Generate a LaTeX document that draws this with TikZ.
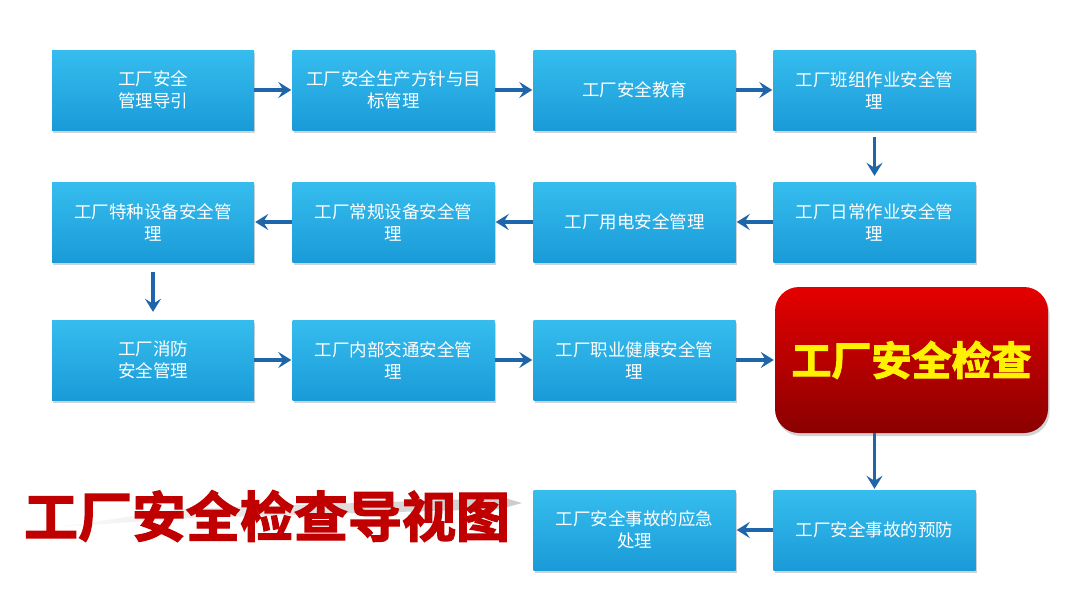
\documentclass[tikz,border=0pt]{standalone}
\usepackage{fontspec}
\newfontfamily\cjk{Noto Sans CJK SC}
\newfontfamily\cjkbold[FakeBold=2.5]{Noto Sans CJK SC Bold}
\usetikzlibrary{arrows.meta,shadows}
\definecolor{boxtop}{HTML}{36BDEE}
\definecolor{boxbot}{HTML}{1A9BD8}
\definecolor{arrowc}{HTML}{1F65AA}
\definecolor{redtop}{HTML}{E50000}
\definecolor{redbot}{HTML}{8A0000}
\definecolor{titlered}{HTML}{C00000}
\definecolor{yel}{HTML}{FFF200}
\tikzset{
  bluebox/.style={rectangle, minimum width=202pt, minimum height=80pt,
    top color=boxtop, bottom color=boxbot, draw=none,
    drop shadow={opacity=0.35, shadow xshift=1pt, shadow yshift=-2.5pt},
    text=white, align=center, font=\cjk\fontsize{17.5}{22}\selectfont, inner sep=2pt},
  redbox/.style={rectangle, rounded corners=24pt, minimum width=273pt, minimum height=146pt,
    top color=redtop, bottom color=redbot, draw=none,
    drop shadow={opacity=0.35, shadow xshift=1.5pt, shadow yshift=-3pt},
    text=yel, font=\cjkbold\fontsize{40}{44}\selectfont},
  flow/.style={draw=arrowc, line width=3.2pt, -{Stealth[length=13pt,width=16pt,inset=5pt]}}
}
\begin{document}
\begin{tikzpicture}[x=1pt,y=-1pt]
\useasboundingbox[fill=white] (0,0) rectangle (1080,608);
% row 1
\node[bluebox] (a1) at (153,90) {工厂安全\\管理导引};
\node[bluebox] (b1) at (393.5,90) {工厂安全生产方针与目\\标管理};
\node[bluebox] (c1) at (634.5,90) {工厂安全教育};
\node[bluebox] (d1) at (874.5,90) {工厂班组作业安全管\\理};
% row 2
\node[bluebox] (d2) at (874.5,222) {工厂日常作业安全管\\理};
\node[bluebox] (c2) at (634.5,222) {工厂用电安全管理};
\node[bluebox] (b2) at (393.5,222) {工厂常规设备安全管\\理};
\node[bluebox] (a2) at (153,222) {工厂特种设备安全管\\理};
% row 3
\node[bluebox] (a3) at (153,360) {工厂消防\\安全管理};
\node[bluebox] (b3) at (393.5,360) {工厂内部交通安全管\\理};
\node[bluebox] (c3) at (634.5,360) {工厂职业健康安全管\\理};
\node[redbox] (red) at (911.5,360) {工厂安全检查};
% row 5
\node[bluebox] (d5) at (874.5,530) {工厂安全事故的预防};
\node[bluebox] (c5) at (634.5,530) {工厂安全事故的应急\\处理};
% title streak
\shade[left color=gray!5, right color=gray!50, opacity=0.8]
  (60,527) -- (180,509) -- (505,498) -- (522,503) -- (500,509) -- (190,518) -- cycle;
\node[font=\cjkbold\fontsize{54}{58}\selectfont, text=titlered, anchor=center, inner sep=0pt] (title) at (267,516) {工厂安全检查导视图};
% connectors
\draw[flow] (a1.east) -- ([xshift=-1pt]b1.west);
\draw[flow] (b1.east) -- ([xshift=-1pt]c1.west);
\draw[flow] (c1.east) -- ([xshift=-1pt]d1.west);
\draw[flow] ([yshift=-7pt]d1.south) -- ([yshift=6pt]d2.north);
\draw[flow] (d2.west) -- ([xshift=1pt]c2.east);
\draw[flow] (c2.west) -- ([xshift=1pt]b2.east);
\draw[flow] (b2.west) -- ([xshift=1pt]a2.east);
\draw[flow] ([yshift=-10pt]a2.south) -- ([yshift=8pt]a3.north);
\draw[flow] (a3.east) -- ([xshift=-1pt]b3.west);
\draw[flow] (b3.east) -- ([xshift=-1pt]c3.west);
\draw[flow] (c3.east) -- ([xshift=-1pt]red.west);
\draw[flow] ([xshift=-37pt]red.south) -- ([yshift=1pt]d5.north);
\draw[flow] (d5.west) -- ([xshift=1pt]c5.east);
\end{tikzpicture}
\end{document}
